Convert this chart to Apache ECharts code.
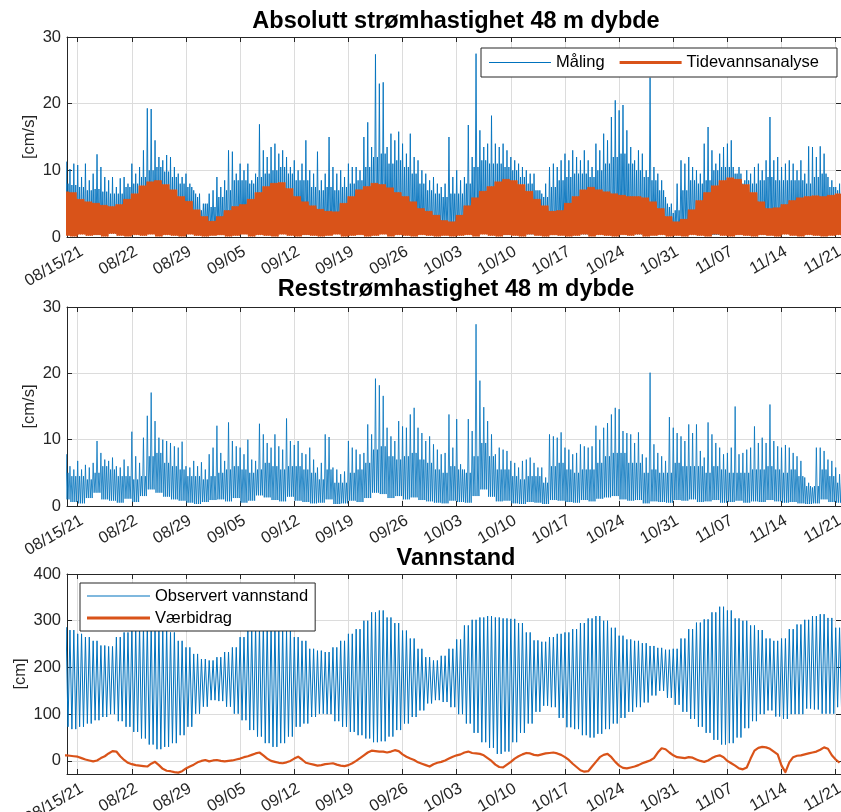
<!DOCTYPE html>
<html>
<head>
<meta charset="utf-8">
<script src="https://cdn.jsdelivr.net/npm/echarts@6/dist/echarts.min.js"></script>
<style>
  html, body { margin: 0; padding: 0; background: #fff; }
  #chart { width: 841px; height: 812px; }
</style>
</head>
<body>
<div id="chart"></div>
<script>
// ---- time base: every daily array starts on 2021-08-13 (UTC) ----
const DAY = 86400000;
const START = Date.UTC(2021, 7, 13);
const X_MIN = Date.UTC(2021, 7, 13, 14, 49);
const X_MAX = Date.UTC(2021, 10, 21, 16, 27);

// weekly ticks and their labels
const tickDates = ['2021-08-15', '2021-08-22', '2021-08-29', '2021-09-05', '2021-09-12',
  '2021-09-19', '2021-09-26', '2021-10-03', '2021-10-10', '2021-10-17', '2021-10-24',
  '2021-10-31', '2021-11-07', '2021-11-14', '2021-11-21'];
const tickLabels = ['08/15/21', '08/22', '08/29', '09/05', '09/12', '09/19', '09/26',
  '10/03', '10/10', '10/17', '10/24', '10/31', '11/07', '11/14', '11/21'];
const speedTicks = [0, 10, 20, 30];
const levelTicks = [0, 100, 200, 300, 400];

// measured speed, 48 m: peak per half day (cm/s), two per day
const maalingHi = [
  10.5, 11.3, 10.2, 11.0, 10.8, 9.0, 11.0, 8.5, 9.5, 12.4, 10.5, 9.0, 8.5, 9.0, 7.5, 8.8, 9.0, 8.0, 11.0, 9.5,
  10.5, 13.0, 19.3, 19.2, 14.5, 12.0, 11.5, 12.3, 12.0, 10.5, 9.5, 9.0, 9.5, 8.0, 7.0, 6.0, 4.0, 5.0, 6.5, 7.0,
  9.0, 7.5, 8.5, 13.0, 12.8, 9.5, 11.0, 10.0, 11.0, 8.5, 9.5, 16.9, 13.0, 12.0, 13.5, 14.0, 12.5, 13.0, 12.0, 10.5,
  11.5, 10.0, 11.0, 14.5, 10.0, 9.5, 12.8, 8.5, 9.5, 15.0, 10.5, 9.5, 10.0, 9.0, 11.0, 10.5, 10.5, 10.0, 15.0, 17.2,
  13.5, 27.4, 23.0, 23.2, 13.5, 15.5, 14.5, 15.8, 14.0, 12.5, 15.5, 12.0, 11.5, 10.0, 9.5, 8.5, 9.0, 8.0, 7.5, 8.0,
  15.0, 9.0, 10.0, 8.5, 9.0, 16.8, 12.0, 27.5, 16.0, 13.5, 14.0, 18.2, 14.0, 13.5, 14.0, 13.0, 12.0, 11.5, 11.0, 10.5,
  10.0, 9.5, 9.5, 7.0, 6.5, 8.0, 10.5, 11.0, 10.5, 11.5, 12.5, 11.5, 13.0, 12.0, 11.5, 13.0, 11.5, 10.5, 14.0, 13.0,
  15.5, 14.5, 18.0, 20.5, 19.0, 19.8, 16.0, 13.5, 11.5, 13.0, 12.5, 10.0, 23.9, 10.5, 9.5, 8.5, 6.0, 4.5, 3.6, 8.0,
  11.5, 11.0, 12.0, 10.5, 10.0, 9.5, 14.0, 16.5, 13.0, 11.0, 12.5, 13.5, 14.0, 14.5, 9.5, 10.5, 8.0, 10.0, 9.5, 10.5,
  11.0, 10.0, 11.5, 18.0, 11.5, 12.0, 10.5, 11.0, 11.5, 11.0, 10.0, 11.5, 9.5, 13.6, 13.5, 12.0, 13.6, 12.5, 9.0, 8.5,
  7.5, 8.0
];
// measured speed: usual daily upper level between the peaks (cm/s)
const maalingTyp = [
  8.0, 7.8, 7.5, 7.0, 7.2, 6.8, 6.5, 6.5, 7.5, 8.0, 9.0, 10.0, 10.5, 9.8, 9.0, 8.0, 7.5, 6.5, 5.0, 4.5,
  6.0, 7.0, 8.5, 8.5, 8.0, 9.0, 9.5, 10.0, 10.5, 9.5, 8.5, 8.5, 7.5, 7.0, 7.5, 7.0, 7.5, 8.0, 8.5, 10.5,
  12.0, 12.5, 11.0, 11.5, 10.5, 9.5, 8.0, 7.0, 6.5, 6.0, 6.5, 6.5, 8.0, 10.5, 11.5, 11.0, 11.0, 10.5, 10.0, 9.0,
  8.0, 7.0, 6.0, 7.5, 8.5, 9.0, 9.5, 9.5, 9.0, 10.0, 11.0, 12.0, 12.5, 11.0, 10.0, 9.0, 8.5, 7.0, 5.0, 4.0,
  7.0, 8.5, 8.0, 8.5, 10.0, 10.5, 10.5, 9.5, 8.5, 8.0, 8.5, 9.0, 8.5, 8.5, 8.5, 8.5, 8.0, 9.0, 9.5, 7.5,
  7.0
];
// measured speed: daily low (cm/s)
const maalingLo = [
  0.6, 0.4, 0.8, 0.5, 0.3, 0.7, 0.5, 0.4, 0.9, 0.6, 0.3, 0.5, 1.2, 0.4, 0.6, 0.5, 0.7, 0.3, 1.5, 1.0,
  0.5, 0.6, 0.4, 0.8, 0.3, 0.5, 0.7, 0.4, 0.6, 0.5, 0.8, 0.3, 0.5, 0.6, 0.4, 0.7, 0.5, 0.3, 0.6, 0.9,
  1.2, 0.8, 0.5, 0.4, 0.6, 0.3, 0.5, 0.7, 0.4, 1.2, 0.8, 0.5, 0.6, 1.0, 0.7, 0.4, 0.5, 0.3, 0.6, 0.5,
  0.4, 0.7, 0.5, 0.6, 0.3, 0.5, 0.8, 0.4, 0.6, 0.5, 0.7, 0.3, 0.5, 0.6, 0.4, 0.5, 0.8, 0.4, 1.0, 0.6,
  0.5, 0.7, 0.4, 0.6, 0.3, 0.5, 0.6, 0.4, 0.7, 0.5, 0.3, 0.6, 0.5, 0.8, 0.4, 0.6, 0.5, 0.3, 0.7, 0.5,
  0.6
];
// tidal analysis speed: daily peak and slack (cm/s)
const tideMax = [
  6.7, 6.6, 5.6, 5.2, 5.0, 4.7, 4.5, 4.8, 5.6, 6.4, 7.6, 8.2, 8.4, 7.8, 7.0, 6.0, 5.3, 4.0, 3.0, 2.3,
  3.0, 3.9, 4.5, 4.8, 5.6, 6.6, 7.5, 8.0, 8.1, 7.2, 6.0, 5.2, 4.6, 4.1, 3.8, 3.7, 5.0, 6.0, 7.0, 7.5,
  8.0, 7.8, 7.3, 6.6, 6.0, 5.2, 4.2, 3.8, 3.2, 2.4, 2.2, 3.2, 4.6, 5.8, 6.8, 7.5, 8.2, 8.6, 8.4, 7.8,
  6.8, 5.6, 4.6, 3.8, 3.9, 5.0, 6.0, 7.0, 7.4, 7.0, 6.7, 6.4, 6.2, 6.0, 6.0, 5.8, 5.2, 4.2, 3.0, 2.2,
  2.6, 4.0, 5.4, 6.6, 7.6, 8.4, 8.8, 8.6, 7.8, 6.6, 5.2, 4.2, 4.3, 4.8, 5.4, 5.8, 6.0, 6.1, 6.0, 6.2,
  6.4
];
const tideMin = [
  0.3, 0.2, 0.5, 0.3, 0.4, 0.2, 0.6, 0.3, 0.2, 0.4, 0.3, 0.5, 0.2, 0.4, 0.3, 0.2, 0.5, 0.3, 0.2, 0.3,
  0.4, 0.2, 0.3, 0.5, 0.2, 0.4, 0.3, 0.2, 0.5, 0.3, 0.2, 0.4, 0.3, 0.2, 0.3, 0.5, 0.2, 0.3, 0.4, 0.2,
  0.3, 0.5, 0.2, 0.4, 0.3, 0.2, 0.4, 0.3, 0.2, 0.3, 0.2, 0.3, 0.4, 0.2, 0.5, 0.3, 0.2, 0.4, 0.3, 0.2,
  0.5, 0.3, 0.2, 0.4, 0.3, 0.2, 0.3, 0.5, 0.2, 0.4, 0.3, 0.2, 0.4, 0.3, 0.5, 0.2, 0.3, 0.4, 0.2, 0.3,
  0.2, 0.4, 0.3, 0.2, 0.5, 0.3, 0.2, 0.4, 0.3, 0.2, 0.4, 0.3, 0.2, 0.5, 0.3, 0.2, 0.4, 0.3, 0.2, 0.3,
  0.4
];
// residual speed: peak per half day, usual daily level and daily low (cm/s)
const restHi = [
  5.5, 7.8, 6.0, 5.5, 6.8, 5.5, 6.2, 5.8, 6.5, 9.8, 8.0, 7.0, 6.8, 7.3, 6.0, 5.8, 7.0, 6.0, 11.2, 7.5,
  6.5, 10.3, 13.6, 17.1, 12.8, 10.3, 10.0, 9.8, 9.5, 9.0, 8.8, 9.7, 6.0, 5.8, 6.8, 6.0, 6.6, 5.5, 7.8, 8.8,
  12.1, 8.0, 6.8, 12.6, 9.8, 9.0, 8.8, 7.8, 10.0, 7.0, 6.8, 12.4, 10.8, 9.5, 8.8, 10.8, 9.0, 8.5, 13.2, 9.8,
  9.2, 9.8, 8.0, 7.8, 8.8, 7.0, 5.8, 6.5, 10.8, 10.4, 5.8, 5.5, 4.8, 5.2, 9.8, 8.8, 8.5, 7.8, 8.0, 12.3,
  10.8, 19.2, 18.2, 16.6, 11.8, 10.5, 9.8, 12.8, 12.0, 11.8, 13.8, 14.8, 11.8, 11.0, 9.8, 10.5, 9.3, 8.5, 7.8, 8.0,
  13.8, 8.8, 13.1, 6.3, 5.5, 13.1, 11.3, 27.4, 18.9, 14.9, 12.8, 10.8, 7.8, 8.8, 8.5, 8.3, 6.8, 6.5, 5.8, 6.8,
  7.0, 7.3, 6.5, 5.8, 5.8, 4.3, 10.8, 10.5, 10.3, 11.1, 8.8, 8.5, 7.8, 8.0, 9.3, 9.0, 8.8, 9.0, 12.1, 10.0,
  11.8, 12.5, 13.8, 14.8, 14.6, 11.3, 11.0, 10.8, 9.5, 11.1, 7.8, 7.3, 20.1, 9.3, 8.0, 7.5, 6.8, 13.4, 11.8, 11.0,
  10.5, 9.8, 12.3, 11.0, 12.3, 8.3, 7.3, 12.6, 10.8, 9.5, 8.8, 7.8, 8.0, 8.8, 15.0, 7.8, 8.0, 8.5, 8.8, 12.0,
  9.5, 10.3, 9.5, 15.3, 9.8, 9.0, 8.8, 9.2, 8.8, 8.0, 7.5, 6.8, 4.3, 3.5, 2.8, 8.8, 8.8, 8.3, 7.0, 6.8,
  5.8, 4.8
];
const restTyp = [
  5.0, 4.5, 4.5, 4.0, 5.0, 6.0, 5.5, 4.5, 4.5, 4.0, 4.5, 7.5, 8.0, 6.5, 6.0, 5.5, 4.5, 4.5, 4.0, 4.5,
  5.0, 5.5, 6.0, 5.5, 5.0, 5.5, 6.5, 6.0, 5.5, 6.0, 6.0, 5.5, 5.0, 4.0, 5.5, 3.5, 3.5, 5.0, 5.5, 6.5,
  8.5, 9.0, 7.5, 7.0, 7.5, 8.0, 7.0, 6.5, 5.5, 5.0, 6.0, 5.5, 5.0, 7.5, 9.5, 7.5, 5.5, 5.5, 4.5, 4.0,
  4.5, 4.5, 3.5, 6.0, 6.5, 5.5, 5.0, 5.5, 5.5, 6.5, 7.5, 8.0, 8.0, 6.5, 6.5, 5.0, 5.5, 5.0, 5.0, 6.5,
  6.0, 6.0, 6.0, 5.0, 6.0, 5.5, 5.0, 5.0, 5.0, 5.5, 5.5, 6.0, 5.5, 5.0, 5.5, 4.5, 3.0, 3.0, 5.5, 4.5,
  3.5
];
const restLo = [
  1.0, 0.6, 0.4, 1.2, 2.0, 1.0, 0.8, 0.5, 1.1, 0.6, 1.5, 2.5, 2.0, 1.4, 1.0, 0.8, 0.5, 0.3, 0.6, 0.9,
  1.0, 0.7, 1.2, 0.5, 0.8, 1.6, 1.3, 0.9, 0.7, 1.4, 0.8, 0.6, 0.4, 0.5, 1.0, 0.3, 0.4, 0.8, 0.6, 1.2,
  2.0, 1.8, 1.2, 1.5, 1.0, 1.3, 0.9, 0.7, 0.5, 0.4, 0.8, 0.6, 0.5, 1.5, 2.5, 1.4, 0.7, 0.8, 0.4, 0.3,
  0.6, 0.5, 0.3, 0.9, 0.8, 0.6, 0.5, 0.9, 0.7, 1.1, 1.3, 1.5, 1.0, 0.8, 0.9, 0.4, 0.7, 0.6, 0.5, 0.9,
  0.8, 1.0, 0.6, 0.7, 0.9, 0.5, 0.6, 0.8, 0.5, 0.7, 0.6, 0.9, 0.7, 0.5, 0.6, 0.4, 0.3, 0.4, 1.0, 0.6,
  0.5
];
// observed water level: daily high and low water (cm)
const vannHoy = [
  286, 280, 272, 265, 257, 247, 245, 265, 275, 282, 289, 294, 295, 290, 275, 257, 243, 229, 218, 215,
  222, 233, 243, 265, 279, 289, 296, 293, 286, 279, 265, 257, 240, 236, 233, 243, 257, 272, 282, 300,
  318, 322, 307, 295, 279, 262, 240, 222, 215, 225, 240, 260, 290, 302, 307, 310, 307, 305, 304, 295,
  275, 258, 255, 265, 272, 275, 282, 295, 305, 310, 300, 285, 268, 260, 257, 252, 246, 242, 238, 240,
  262, 282, 296, 303, 318, 330, 322, 305, 300, 290, 280, 262, 257, 262, 282, 292, 302, 310, 314, 306,
  285
];
const vannLav = [
  73, 68, 73, 80, 87, 94, 100, 85, 73, 62, 48, 35, 25, 30, 38, 55, 73, 101, 116, 130,
  128, 116, 101, 87, 66, 52, 38, 30, 38, 52, 73, 80, 94, 101, 100, 85, 73, 62, 55, 48,
  40, 42, 52, 66, 80, 94, 108, 123, 130, 126, 115, 100, 80, 60, 40, 28, 15, 20, 40, 60,
  80, 105, 118, 115, 92, 72, 68, 55, 50, 58, 68, 80, 92, 105, 115, 125, 140, 150, 135, 120,
  105, 90, 73, 60, 45, 35, 38, 50, 70, 85, 100, 108, 95, 90, 100, 100, 112, 110, 101, 101,
  115
];
// weather contribution, two values per day (cm)
const vaerbidrag = [
  12, 12, 11, 10, 9, 6, 3, 1, -1, 1, 6, 10, 16, 21, 20, 10, 2, -4, -7, -9,
  -10, -11, -12, -6, -2, -9, -17, -21, -22, -24, -25, -22, -16, -12, -8, -3, 0, 2, -1, 1,
  2, 0, -1, 0, 1, 3, 5, 8, 10, 13, 16, 18, 12, 5, 0, -2, -4, -5, -3, 0,
  5, 9, 3, -4, -6, -8, -10, -9, -7, -6, -5, -8, -10, -11, -9, -5, 0, 6, 12, 18,
  22, 21, 20, 20, 18, 20, 23, 21, 14, 9, 5, 2, -3, -6, -9, -12, -7, -4, -2, 1,
  5, 9, 12, 14, 18, 20, 17, 16, 15, 12, 6, 0, -8, -13, -14, -8, -2, 5, 10, 14,
  17, 16, 13, 12, 14, 16, 17, 18, 16, 13, 8, 2, -6, -13, -20, -23, -22, -12, -2, 8,
  13, 15, 8, -2, -10, -15, -16, -14, -12, -9, -5, -2, 1, 6, 18, 27, 25, 18, 12, 8,
  7, 6, 8, 7, 3, 0, -2, 1, 6, 10, 12, 8, 0, -5, -10, -16, -18, -14, 5, 22,
  28, 30, 29, 26, 20, 14, -10, -24, -3, 8, 11, 12, 14, 16, 18, 20, 24, 29, 26, 12,
  3, -4
];

// ---- build [time, value] pairs ----
const HALF = DAY / 2, QUART = DAY / 4, EIGHTH = DAY / 8;
// noisy speed: each half day a peak, a low, the usual level and another low, 3 h apart
function noisySpeed(hi, typ, lo) {
  const out = [];
  hi.forEach((v, j) => {
    const k = Math.floor(j / 2);
    const t = START + j * HALF;
    out.push([t, v]);
    out.push([t + EIGHTH, lo[k]]);
    out.push([t + 2 * EIGHTH, typ[k]]);
    out.push([t + 3 * EIGHTH, lo[k]]);
  });
  return out;
}
// tidal current speed: four flood/ebb maxima per day with slack water between
function tidalSpeed(maxs, mins) {
  const out = [];
  maxs.forEach((m, k) => {
    for (let q = 0; q < 4; q++) {
      const t = START + k * DAY + q * QUART;
      out.push([t, m]);
      out.push([t + EIGHTH, mins[k]]);
    }
  });
  return out;
}
// semidiurnal water level: two high and two low waters per day
function tideLevel(hw, lw) {
  const out = [];
  hw.forEach((h, k) => {
    for (let q = 0; q < 2; q++) {
      const t = START + k * DAY + q * HALF;
      out.push([t, h]);
      out.push([t + QUART, lw[k]]);
    }
  });
  return out;
}
function halfDaily(vals) {
  return vals.map((v, j) => [START + j * HALF, v]);
}

// ---- styling ----
const FONT = '"Liberation Sans", Arial, Helvetica, sans-serif';
const AX = '#262626';
const GRID = '#dcdcdc';
const BLUE = '#0072BD';
const ORANGE = '#D95319';
const tickTimes = tickDates.map(s => Date.parse(s + 'T00:00:00Z'));

const grids = [
  { left: 67, right: 0, top: 37, height: 200, outerBoundsMode: 'none', containLabel: false },
  { left: 67, right: 0, top: 307, height: 199, outerBoundsMode: 'none', containLabel: false },
  { left: 67, right: 0, top: 574, height: 200, outerBoundsMode: 'none', containLabel: false }
];

// the date axis is a plain numeric axis in epoch milliseconds
function xAxesFor(gridIndex) {
  const line = { show: true, onZero: false, lineStyle: { color: AX, width: 1 } };
  const tick = { show: true, inside: true, length: 5, customValues: tickTimes, lineStyle: { color: AX, width: 1 } };
  return [
    {
      type: 'value', gridIndex, position: 'bottom', min: X_MIN, max: X_MAX,
      axisLine: line, axisTick: tick,
      axisLabel: {
        show: true, customValues: tickTimes, rotate: 30, margin: 6, verticalAlign: 'top',
        fontSize: 16.5, color: AX, fontFamily: FONT, hideOverlap: false,
        formatter: v => {
          const i = tickTimes.indexOf(v);
          return i >= 0 ? tickLabels[i] : '';
        }
      },
      splitLine: { show: true, lineStyle: { color: GRID, width: 1 } }
    },
    {
      type: 'value', gridIndex, position: 'top', min: X_MIN, max: X_MAX,
      axisLine: line, axisTick: tick,
      axisLabel: { show: false }, splitLine: { show: false }
    }
  ];
}

function yAxesFor(gridIndex, min, max, ticks, name, nameGap) {
  const line = { show: true, onZero: false, lineStyle: { color: AX, width: 1 } };
  const tick = { show: true, inside: true, length: 5, customValues: ticks, lineStyle: { color: AX, width: 1 } };
  return [
    {
      type: 'value', gridIndex, position: 'left', min, max,
      name, nameLocation: 'middle', nameGap, nameMoveOverlap: false,
      nameTextStyle: { fontSize: 16.5, color: AX, fontFamily: FONT },
      axisLine: line, axisTick: tick,
      axisLabel: { customValues: ticks, fontSize: 16.5, color: AX, fontFamily: FONT, margin: 6 },
      splitLine: { show: true, lineStyle: { color: GRID, width: 1 } }
    },
    {
      type: 'value', gridIndex, position: 'right', min, max,
      axisLine: line, axisTick: tick,
      axisLabel: { show: false }, splitLine: { show: false }
    }
  ];
}

const titleStyle = { fontSize: 23.5, fontWeight: 'bold', color: '#000', fontFamily: FONT };
const legendText = { fontSize: 16.5, color: '#000', fontFamily: FONT, lineHeight: 17 };

const option = {
  animation: false,
  backgroundColor: '#fff',
  title: [
    { text: 'Absolutt strømhastighet 48 m dybde', left: 456, top: 10, textAlign: 'center', padding: 0, textStyle: titleStyle },
    { text: 'Reststrømhastighet 48 m dybde', left: 456, top: 278, textAlign: 'center', padding: 0, textStyle: titleStyle },
    { text: 'Vannstand', left: 456, top: 547, textAlign: 'center', padding: 0, textStyle: titleStyle }
  ],
  legend: [
    {
      data: [
        { name: 'Måling', icon: 'path://M0,0H62V1H0Z', itemStyle: { color: BLUE, borderWidth: 0 } },
        { name: 'Tidevannsanalyse', icon: 'path://M0,0H62V3H0Z', itemStyle: { color: ORANGE, borderWidth: 0 } }
      ],
      orient: 'horizontal', left: 481, top: 48,
      itemWidth: 62, itemHeight: 14, itemGap: 15,
      padding: [6, 18, 6, 8],
      backgroundColor: '#fff', borderColor: AX, borderWidth: 1, borderRadius: 0,
      textStyle: legendText, selectedMode: false
    },
    {
      data: [
        { name: 'Observert vannstand', icon: 'path://M0,0H63V1H0Z', itemStyle: { color: BLUE, borderWidth: 0 } },
        { name: 'Værbidrag', icon: 'path://M0,0H63V3H0Z', itemStyle: { color: ORANGE, borderWidth: 0 } }
      ],
      orient: 'vertical', left: 80, top: 583,
      itemWidth: 63, itemHeight: 14, itemGap: 5,
      padding: [4.5, 7, 4.5, 7],
      backgroundColor: '#fff', borderColor: AX, borderWidth: 1, borderRadius: 0,
      textStyle: legendText, selectedMode: false
    }
  ],
  grid: grids,
  xAxis: [...xAxesFor(0), ...xAxesFor(1), ...xAxesFor(2)],
  yAxis: [
    ...yAxesFor(0, 0, 30, speedTicks, '[cm/s]', 29),
    ...yAxesFor(1, 0, 30, speedTicks, '[cm/s]', 29),
    ...yAxesFor(2, -28, 400, levelTicks, '[cm]', 38)
  ],
  series: [
    {
      name: 'Måling', type: 'line', xAxisIndex: 0, yAxisIndex: 0,
      data: noisySpeed(maalingHi, maalingTyp, maalingLo), symbol: 'none',
      lineStyle: { color: BLUE, width: 0.9, join: 'round' }, itemStyle: { color: BLUE }
    },
    {
      name: 'Tidevannsanalyse', type: 'line', xAxisIndex: 0, yAxisIndex: 0,
      data: tidalSpeed(tideMax, tideMin), symbol: 'none',
      lineStyle: { color: ORANGE, width: 2, join: 'round' }, itemStyle: { color: ORANGE }
    },
    {
      name: 'Reststrømhastighet', type: 'line', xAxisIndex: 2, yAxisIndex: 2,
      data: noisySpeed(restHi, restTyp, restLo), symbol: 'none',
      lineStyle: { color: BLUE, width: 0.8, join: 'round' }, itemStyle: { color: BLUE }
    },
    {
      name: 'Observert vannstand', type: 'line', xAxisIndex: 4, yAxisIndex: 4,
      data: tideLevel(vannHoy, vannLav), symbol: 'none',
      lineStyle: { color: BLUE, width: 1, join: 'round' }, itemStyle: { color: BLUE }
    },
    {
      name: 'Værbidrag', type: 'line', xAxisIndex: 4, yAxisIndex: 4,
      data: halfDaily(vaerbidrag), symbol: 'none',
      lineStyle: { color: ORANGE, width: 2.2, join: 'round' }, itemStyle: { color: ORANGE }
    }
  ]
};

const chart = echarts.init(document.getElementById('chart'), null, { renderer: 'canvas' });
chart.setOption(option);
</script>
</body>
</html>
